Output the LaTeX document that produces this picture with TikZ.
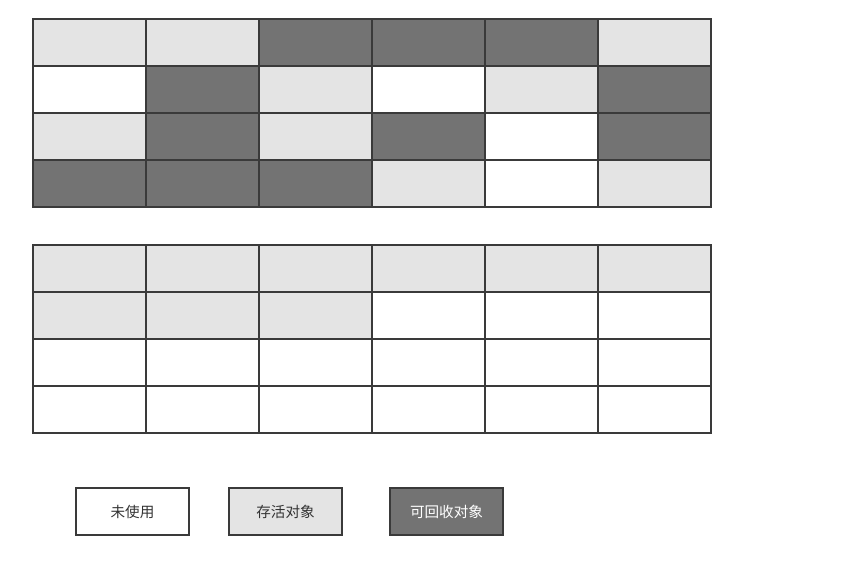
\documentclass[tikz,border=0pt]{standalone}
\usepackage{fontspec}
\setmainfont{Noto Sans CJK SC}
\usetikzlibrary{positioning}
\definecolor{livegray}{HTML}{E4E4E4}
\definecolor{deadgray}{HTML}{737373}
\definecolor{edgegray}{HTML}{3A3A3A}
\definecolor{textgray}{HTML}{333333}
\tikzset{
	cell/.style={
		draw=edgegray,
		line width=2pt,
		minimum width=113pt,
		minimum height=47pt,
		inner sep=0pt,
		outer sep=0pt,
		anchor=north west
	},
	cellW/.style={cell, fill=white},
	cellL/.style={cell, fill=livegray},
	cellD/.style={cell, fill=deadgray},
	legend/.append style={
		draw=edgegray,
		line width=2pt,
		minimum width=113pt,
		minimum height=47pt,
		inner sep=0pt,
		text=textgray,
		font={\fontsize{14.6}{16}\selectfont}
	}
}

\begin{document}
\begin{tikzpicture}[x=1pt, y=-1pt]
\useasboundingbox (0,0) rectangle (860,561);

% heap before collection
\foreach \row [count=\r from 0] in {{L,L,D,D,D,L},{W,D,L,W,L,D},{L,D,L,D,W,D},{D,D,D,L,W,L}}{
	\foreach \kind [count=\c from 0] in \row {
		\node (before-\r-\c) [cell\kind] at (33+113*\c, 19+47*\r) {};
	}
}

% heap after compaction
\foreach \row [count=\r from 0] in {{L,L,L,L,L,L},{L,L,L,W,W,W},{W,W,W,W,W,W},{W,W,W,W,W,W}}{
	\foreach \kind [count=\c from 0] in \row {
		\node (after-\r-\c) [cell\kind] at (33+113*\c, 245+47*\r) {};
	}
}

% legend
\node (unused)[legend, fill=white] at (132.5,511.5) {未使用};
\node (alive)[legend, fill=livegray] at (285.5,511.5) {存活对象};
\node (garbage)[legend, fill=deadgray, text=white] at (446.5,511.5) {可回收对象};

\end{tikzpicture}
\end{document}
